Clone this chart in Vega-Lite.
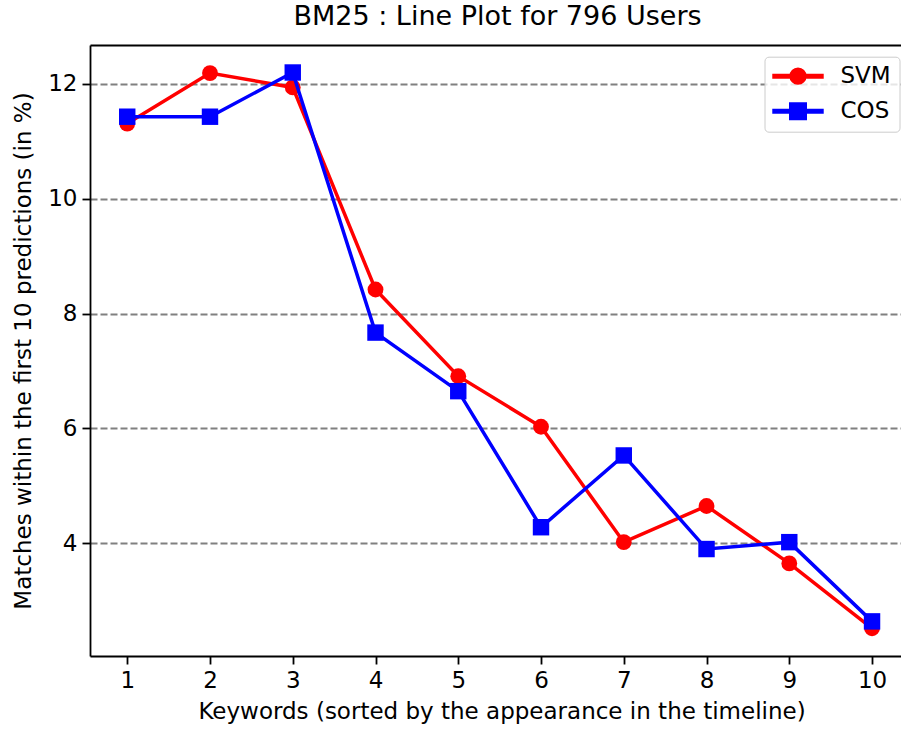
{
  "$schema": "https://vega.github.io/schema/vega-lite/v6.json",
  "width": 811,
  "height": 611,
  "autosize": {"type": "none"},
  "padding": {"left": 90, "top": 45, "right": 0, "bottom": 75},
  "background": "white",
  "title": {
    "text": "BM25 : Line Plot for 796 Users",
    "font": "DejaVu Sans",
    "fontSize": 27,
    "fontWeight": "normal",
    "color": "black",
    "anchor": "middle",
    "dx": 2,
    "offset": 14
  },
  "data": {
    "values": [
      {"keyword": 1, "series": "SVM", "value": 11.31},
      {"keyword": 2, "series": "SVM", "value": 12.19},
      {"keyword": 3, "series": "SVM", "value": 11.94},
      {"keyword": 4, "series": "SVM", "value": 8.42},
      {"keyword": 5, "series": "SVM", "value": 6.91},
      {"keyword": 6, "series": "SVM", "value": 6.03},
      {"keyword": 7, "series": "SVM", "value": 4.02},
      {"keyword": 8, "series": "SVM", "value": 4.65},
      {"keyword": 9, "series": "SVM", "value": 3.65},
      {"keyword": 10, "series": "SVM", "value": 2.52},
      {"keyword": 1, "series": "COS", "value": 11.43},
      {"keyword": 2, "series": "COS", "value": 11.43},
      {"keyword": 3, "series": "COS", "value": 12.2},
      {"keyword": 4, "series": "COS", "value": 7.67},
      {"keyword": 5, "series": "COS", "value": 6.65},
      {"keyword": 6, "series": "COS", "value": 4.28},
      {"keyword": 7, "series": "COS", "value": 5.53},
      {"keyword": 8, "series": "COS", "value": 3.9},
      {"keyword": 9, "series": "COS", "value": 4.02},
      {"keyword": 10, "series": "COS", "value": 2.64}
    ]
  },
  "encoding": {
    "x": {
      "field": "keyword",
      "type": "quantitative",
      "scale": {"domain": [0.55, 10.35], "nice": false, "zero": false},
      "title": "Keywords (sorted by the appearance in the timeline)"
    },
    "y": {
      "field": "value",
      "type": "quantitative",
      "scale": {"domain": [2.037, 12.679], "nice": false, "zero": false},
      "title": "Matches within the first 10 predictions (in %)",
      "axis": {
        "values": [4, 6, 8, 10, 12],
        "format": "d",
        "grid": true,
        "gridColor": "#808080",
        "gridDash": [7, 3],
        "gridWidth": 1.8,
        "titlePadding": 12
      }
    },
    "color": {
      "field": "series",
      "type": "nominal",
      "scale": {"domain": ["SVM", "COS"], "range": ["#ff0000", "#0000ff"]}
    }
  },
  "layer": [
    {
      "transform": [{"filter": "datum.series === 'SVM'"}],
      "mark": {"type": "line", "strokeWidth": 3.5},
      "encoding": {
        "x": {
          "field": "keyword",
          "type": "quantitative",
          "scale": {"domain": [0.55, 10.35], "nice": false, "zero": false},
          "title": "Keywords (sorted by the appearance in the timeline)",
          "axis": {
            "orient": "bottom",
            "values": [1, 2, 3, 4, 5, 6, 7, 8, 9, 10],
            "format": "d",
            "grid": false,
            "titlePadding": 8,
            "titleX": 411.5
          }
        }
      }
    },
    {
      "transform": [{"filter": "datum.series === 'SVM'"}],
      "mark": {"type": "circle", "opacity": 1, "size": 250, "strokeWidth": 0},
      "encoding": {
        "x": {
          "field": "keyword",
          "type": "quantitative",
          "scale": {"domain": [0.55, 10.35], "nice": false, "zero": false},
          "axis": {
            "orient": "top",
            "labels": false,
            "ticks": false,
            "grid": false,
            "title": null,
            "domain": true
          }
        },
        "color": {
          "field": "series",
          "type": "nominal",
          "scale": {"domain": ["SVM", "COS"], "range": ["#ff0000", "#0000ff"]},
          "legend": {
            "title": null,
            "orient": "none",
            "legendX": 674.5,
            "legendY": 11.7,
            "padding": 8,
            "fillColor": "rgba(255,255,255,0.8)",
            "strokeColor": "#cccccc",
            "cornerRadius": 4,
            "labelFont": "DejaVu Sans",
            "labelFontSize": 23,
            "labelColor": "black",
            "symbolSize": 225,
            "symbolOffset": 14,
            "labelOffset": 31,
            "rowPadding": 11,
            "symbolType": {"expr": "datum.value === 'SVM' ? 'M-3.33,-0.23L-0.95,-0.23L-0.95,0.23L-3.33,0.23Z M0.95,-0.23L3.33,-0.23L3.33,0.23L0.95,0.23Z M1.05,0A1.05,1.05,0,1,1,-1.05,0A1.05,1.05,0,1,1,1.05,0Z' : 'M-3.33,-0.23L-1.08,-0.23L-1.08,0.23L-3.33,0.23Z M1.08,-0.23L3.33,-0.23L3.33,0.23L1.08,0.23Z M-1.1,-1.1L1.1,-1.1L1.1,1.1L-1.1,1.1Z'"},
            "encode": {
              "symbols": {
                "fill": {
                  "condition": {"test": "datum.value === 'SVM'", "value": "#ff0000"},
                  "value": "#0000ff"
                },
                "fillOpacity": {"value": 1},
                "opacity": {"value": 1},
                "strokeWidth": {"value": 0}
              }
            }
          }
        }
      }
    },
    {
      "transform": [{"filter": "datum.series === 'COS'"}],
      "mark": {"type": "line", "strokeWidth": 3.5},
      "encoding": {
        "x": {
          "field": "keyword",
          "type": "quantitative",
          "scale": {"domain": [0.55, 10.35], "nice": false, "zero": false},
          "axis": null
        }
      }
    },
    {
      "transform": [{"filter": "datum.series === 'COS'"}],
      "mark": {"type": "square", "opacity": 1, "size": 270, "strokeWidth": 0},
      "encoding": {
        "x": {
          "field": "keyword",
          "type": "quantitative",
          "scale": {"domain": [0.55, 10.35], "nice": false, "zero": false},
          "axis": null
        }
      }
    }
  ],
  "resolve": {"axis": {"x": "independent"}},
  "config": {
    "view": {"stroke": null},
    "font": "DejaVu Sans",
    "axis": {
      "labelFont": "DejaVu Sans",
      "labelFontSize": 23,
      "labelColor": "black",
      "titleFont": "DejaVu Sans",
      "titleFontSize": 23,
      "titleFontWeight": "normal",
      "titleColor": "black",
      "domainColor": "black",
      "domainWidth": 1.8,
      "tickColor": "black",
      "tickWidth": 1.8,
      "tickSize": 8,
      "labelPadding": 5,
      "labelFlush": false,
      "labelOverlap": false
    }
  }
}
